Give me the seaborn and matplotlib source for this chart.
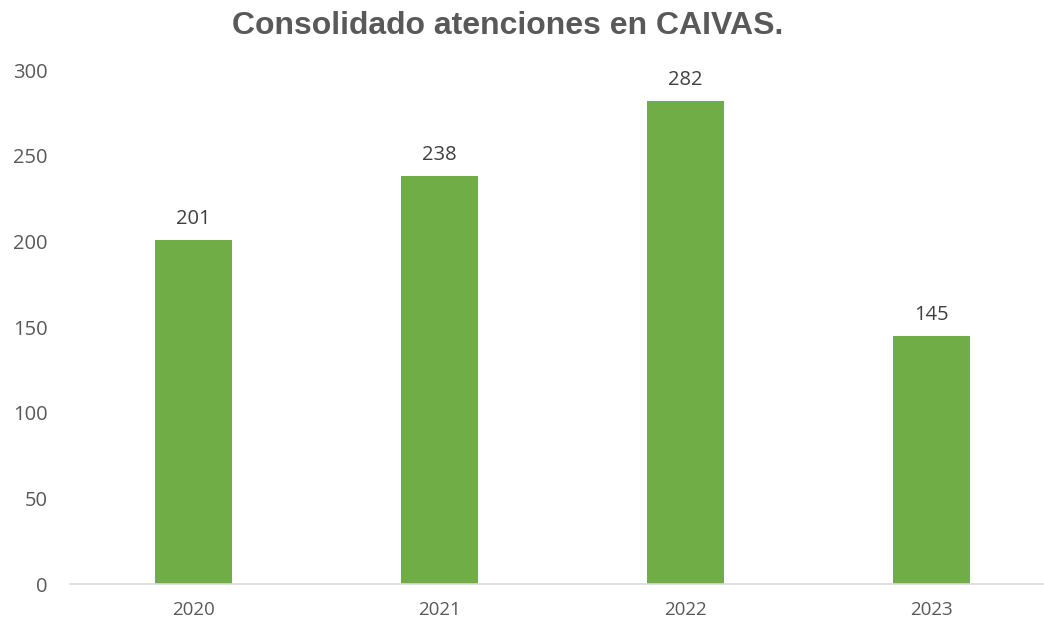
import matplotlib.pyplot as plt
import pandas as pd
import seaborn as sns

# Data
years = ['2020', '2021', '2022', '2023']
atenciones = [201, 238, 282, 145]
title = 'Consolidado atenciones en CAIVAS.'

df = pd.DataFrame({'year': years, 'value': atenciones})

sns.set_style('white')
plt.rcParams['font.family'] = ['Open Sans', 'DejaVu Sans']

fig = plt.figure(figsize=(10.44, 6.19), dpi=100)
ax = fig.add_axes([0.067, 0.0565, 0.9435, 0.8304])

sns.barplot(data=df, x='year', y='value', color='#70AD47', width=0.313,
            saturation=1, linewidth=0, ax=ax)

ax.set_xlim(-0.5, 3.5)
ax.set_ylim(0, 300)
ax.set_yticks(range(0, 301, 50))
ax.set_xlabel('')
ax.set_ylabel('')

for s in ['top', 'right', 'left']:
    ax.spines[s].set_visible(False)
ax.spines['bottom'].set_color('#D9D9D9')
ax.spines['bottom'].set_linewidth(1.2)

ax.tick_params(axis='y', length=0, pad=16, labelsize=14.5, labelcolor='#595959')
ax.tick_params(axis='x', length=0, pad=12, labelsize=13.5, labelcolor='#595959')

# Data labels
for i, v in enumerate(atenciones):
    ax.annotate(str(v), (i, v), xytext=(0, 15), textcoords='offset points',
                ha='center', va='center', fontsize=14.5, color='#404040')

fig.text(0.486, 0.958, title, ha='center', va='center', fontsize=23,
         fontweight='bold', color='#595959', family=['Liberation Sans', 'DejaVu Sans'])

fig.savefig('out.png', dpi=100)
